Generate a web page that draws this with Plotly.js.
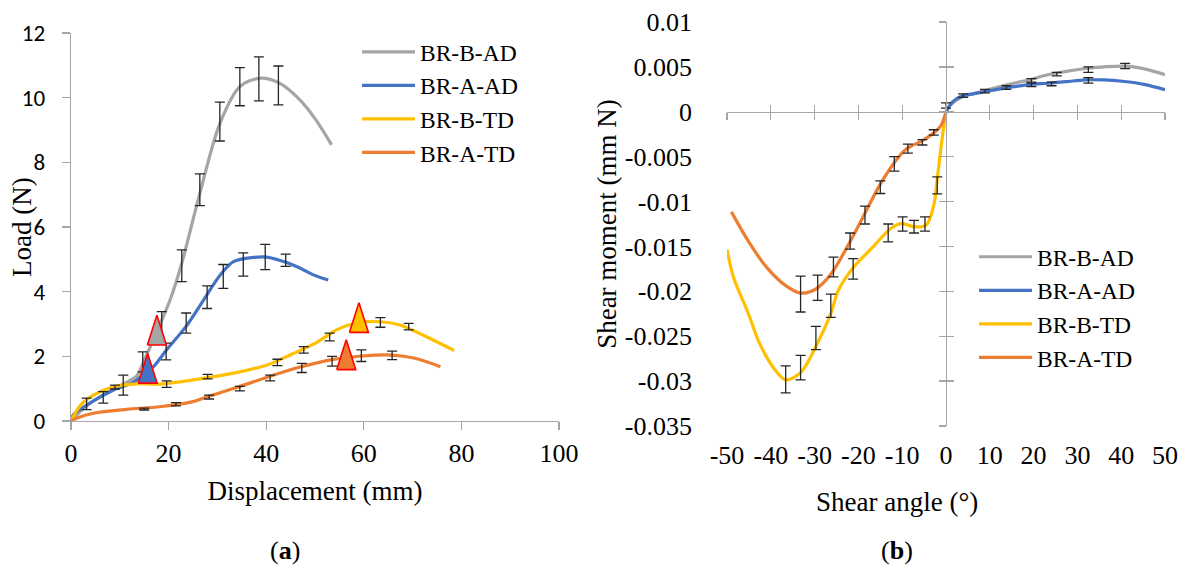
<!DOCTYPE html>
<html><head><meta charset="utf-8">
<script src="https://cdn.plot.ly/plotly-3.0.1.min.js"></script>
<style>html,body{margin:0;padding:0;background:#fff}#chart{width:1182px;height:574px}</style>
</head><body><div id="chart"></div>
<script>
// ---------- Data: (a) Load vs displacement ----------
const seriesNames = ['BR-B-AD', 'BR-A-AD', 'BR-B-TD', 'BR-A-TD'];

const aBAD_x = [0, 3, 6, 9, 12, 13.5, 15.2, 17.6, 18.6, 20.3, 22.7, 26.4, 30.5, 34.6, 38.7, 42.8, 46.9, 50, 53.4];
const aBAD_y = [0, 0.45, 0.75, 1.0, 1.25, 1.4, 1.95, 2.75, 3.12, 3.74, 4.88, 7.04, 9.2, 10.34, 10.6, 10.44, 9.93, 9.35, 8.54];
const aAAD_x = [0, 0.5, 4.6, 8.7, 12.8, 15.7, 16.9, 19.6, 23.7, 27, 30.5, 33.3, 37.4, 40.1, 44.2, 46.9, 49.7, 52.7];
const aAAD_y = [0, 0.19, 0.62, 0.96, 1.2, 1.55, 1.68, 2.2, 2.95, 3.7, 4.5, 4.93, 5.06, 5.07, 4.9, 4.73, 4.52, 4.36];
const aBTD_x = [0, 2, 4.6, 8.7, 13.5, 18.2, 25, 34.6, 40.5, 45.3, 50, 54.7, 58.7, 63.4, 67.4, 72.1, 78.5];
const aBTD_y = [0, 0.5, 0.8, 1.06, 1.15, 1.14, 1.27, 1.52, 1.75, 2.07, 2.4, 2.84, 3.04, 3.07, 2.97, 2.66, 2.18];
const aATD_x = [0, 1, 4.6, 11.4, 18.2, 25, 27.9, 34.4, 40.5, 46.8, 53.2, 59.5, 65.8, 70.5, 75.7];
const aATD_y = [0, 0.08, 0.24, 0.36, 0.44, 0.6, 0.75, 1.06, 1.37, 1.66, 1.89, 2.01, 2.04, 1.94, 1.68];

// error bars (a)
const aBAD_ex = [10.7, 14.7, 18.6, 22.7, 26.4, 30.5, 34.6, 38.5, 42.5];
const aBAD_ey = [1.11, 1.83, 2.89, 4.8, 7.15, 9.26, 10.34, 10.58, 10.38];
const aBAD_ee = [0.31, 0.31, 0.49, 0.49, 0.49, 0.6, 0.59, 0.68, 0.6];
const aAAD_ex = [3.2, 6.6, 19.5, 23.6, 27.9, 31.2, 35.3, 39.8, 44];
const aAAD_ey = [0.53, 0.73, 2.15, 3.03, 3.83, 4.47, 4.84, 5.07, 4.97];
const aAAD_ee = [0.18, 0.18, 0.26, 0.31, 0.35, 0.37, 0.36, 0.39, 0.19];
const aBTD_ex = [9, 19.6, 28, 42.3, 47.7, 53, 63.4, 69.2];
const aBTD_ey = [1.05, 1.14, 1.37, 1.81, 2.2, 2.6, 3.05, 2.92];
const aBTD_ee = [0.06, 0.1, 0.07, 0.1, 0.1, 0.12, 0.15, 0.1];
const aATD_ex = [15, 21.5, 28.3, 34.6, 40.8, 47.3, 53.5, 59.5, 65.8];
const aATD_ey = [0.37, 0.52, 0.74, 1.0, 1.33, 1.64, 1.85, 2.02, 2.03];
const aATD_ee = [0.03, 0.05, 0.06, 0.07, 0.09, 0.14, 0.15, 0.18, 0.13];

// triangle markers (a): BR-B-AD, BR-A-AD, BR-B-TD, BR-A-TD
const triX = [17.6, 15.7, 59.0, 56.4];
const triY = [2.81, 1.63, 3.2, 2.05];

const aTickVals = [0, 20, 40, 60, 80, 100];
const aTickText = ['0', '20', '40', '60', '80', '100'];
const aYTickVals = [0, 2, 4, 6, 8, 10, 12];
const aYTickText = ['0', '2', '4', '6', '8', '10', '12'];

// ---------- Data: (b) Shear moment vs shear angle ----------
const bBAD_x = [0, 1, 3.6, 6.2, 10.4, 14.7, 19, 23.2, 27.5, 31.8, 36, 41.2, 45.5, 50];
const bBAD_y = [0, 0.00073, 0.00164, 0.002, 0.00256, 0.0031, 0.00355, 0.00413, 0.0045, 0.00482, 0.005, 0.00508, 0.00475, 0.00413];
const bAAD_x = [0, 1.5, 3.6, 6.2, 10.4, 14.7, 19, 23.2, 27.5, 31.8, 36, 40.3, 45.5, 50];
const bAAD_y = [0, 0.0011, 0.00175, 0.002, 0.00238, 0.00274, 0.00303, 0.00318, 0.00336, 0.00355, 0.00355, 0.0034, 0.00303, 0.00245];
const bBTD_x = [-50, -48.5, -45.1, -42.6, -39.1, -36.6, -33.2, -29.7, -26.3, -24.6, -21.2, -16.9, -12.6, -10.1, -7.5, -4.5, -2.8, -2.0, -1.1, -0.3, 0];
const bBTD_y = [-0.01535, -0.01846, -0.0225, -0.02577, -0.0287, -0.02986, -0.02906, -0.02613, -0.02248, -0.0199, -0.01736, -0.01517, -0.013, -0.01243, -0.0128, -0.0126, -0.0104, -0.0075, -0.0038, -0.0009, 0];
const bATD_x = [-49, -45.1, -40.9, -36.6, -33.2, -29.7, -26.3, -22.9, -19.5, -15.2, -11.8, -9.2, -5, -2.4, -1.1, 0];
const bATD_y = [-0.01115, -0.01444, -0.01736, -0.01937, -0.0202, -0.01974, -0.0181, -0.01535, -0.01225, -0.00822, -0.00567, -0.0042, -0.0031, -0.0022, -0.0015, 0];

const bBAD_ex = [19.5, 25.3, 32.5, 40.9];
const bBAD_ey = [0.0035, 0.0042, 0.0047, 0.0051];
const bBAD_ee = [0.0002, 0.0002, 0.0003, 0.0003];
const bAAD_ex = [0, 3.9, 8.9, 13.8, 19.5, 24.1, 32.5];
const bAAD_ey = [0.0007, 0.0018, 0.0023, 0.0027, 0.0030, 0.0031, 0.0035];
const bAAD_ee = [0.0003, 0.0002, 0.0002, 0.0002, 0.0002, 0.0002, 0.0003];
const bBTD_ex = [-36.6, -33.2, -29.7, -26.3, -21.2, -13.2, -9.9, -7.3, -4.8, -2.0];
const bBTD_ey = [-0.0298, -0.0285, -0.0252, -0.0216, -0.0175, -0.0135, -0.0125, -0.0128, -0.0125, -0.0082];
const bBTD_ee = [0.0015, 0.00137, 0.0013, 0.0013, 0.00115, 0.001, 0.0008, 0.0007, 0.0008, 0.00095];
const bATD_ex = [-33.2, -29.3, -25.7, -21.9, -18.5, -15, -11.8, -8.7, -5.4, -2.8];
const bATD_ey = [-0.0203, -0.0196, -0.0173, -0.0144, -0.0115, -0.0084, -0.0058, -0.0041, -0.0034, -0.0023];
const bATD_ee = [0.002, 0.0014, 0.0011, 0.0009, 0.001, 0.0007, 0.0008, 0.0005, 0.0003, 0.0003];

const bTickVals = [-50, -40, -30, -20, -10, 0, 10, 20, 30, 40, 50];
const bTickText = ['-50', '-40', '-30', '-20', '-10', '0', '10', '20', '30', '40', '50'];
const bYTickVals = [-0.035, -0.03, -0.025, -0.02, -0.015, -0.01, -0.005, 0, 0.005, 0.01];
const bYTickText = ['-0.035', '-0.03', '-0.025', '-0.02', '-0.015', '-0.01', '-0.005', '0', '0.005', '0.01'];

// ---------- Styling ----------
const COLORS = ['#A5A5A5', '#4472C4', '#FFC000', '#ED7D31'];
const SERIF = '"Liberation Serif", "Times New Roman", serif';
const SANS = 'Carlito, "Liberation Sans", Arial, sans-serif';
const AXIS = '#A6A6A6';
const W = 1182, H = 574;
const fx = p => p / W;
const fy = p => 1 - p / H;
const domAX = [fx(71), fx(559)], domAY = [fy(421), fy(33)];
const domBX = [fx(727), fx(1165)], domBY = [fy(426), fy(22)];
const rangeBX = [-50, 50], rangeBY = [-0.035, 0.01];
const zeroYPaper = domBY[0] + (0 - rangeBY[0]) / (rangeBY[1] - rangeBY[0]) * (domBY[1] - domBY[0]);
const zeroXPaper = domBX[0] + (0 - rangeBX[0]) / (rangeBX[1] - rangeBX[0]) * (domBX[1] - domBX[0]);

const traces = [];
const aLines = [[aBAD_x, aBAD_y], [aAAD_x, aAAD_y], [aBTD_x, aBTD_y], [aATD_x, aATD_y]];
const bLines = [[bBAD_x, bBAD_y], [bAAD_x, bAAD_y], [bBTD_x, bBTD_y], [bATD_x, bATD_y]];
const aErr = [[aBAD_ex, aBAD_ey, aBAD_ee], [aAAD_ex, aAAD_ey, aAAD_ee], [aBTD_ex, aBTD_ey, aBTD_ee], [aATD_ex, aATD_ey, aATD_ee]];
const bErr = [[bBAD_ex, bBAD_ey, bBAD_ee], [bAAD_ex, bAAD_ey, bAAD_ee], [bBTD_ex, bBTD_ey, bBTD_ee], [bATD_ex, bATD_ey, bATD_ee]];

function lineTrace(d, i, xa, ya, leg) {
  return {type: 'scatter', mode: 'lines', x: d[0], y: d[1], name: seriesNames[i],
    xaxis: xa, yaxis: ya, legend: leg,
    line: {color: COLORS[i], width: 3.2, shape: 'spline', smoothing: 0.9}, hoverinfo: 'skip'};
}
function errTrace(d, xa, ya) {
  return {type: 'scatter', mode: 'markers', x: d[0], y: d[1], xaxis: xa, yaxis: ya,
    showlegend: false, hoverinfo: 'skip',
    marker: {size: 1, color: 'rgba(0,0,0,0)'},
    error_y: {type: 'data', array: d[2], visible: true, color: '#262626', thickness: 1.3, width: 5}};
}
aLines.forEach((d, i) => traces.push(lineTrace(d, i, 'x', 'y', 'legend')));
bLines.forEach((d, i) => traces.push(lineTrace(d, i, 'x2', 'y2', 'legend2')));
aErr.forEach(d => traces.push(errTrace(d, 'x', 'y')));
bErr.forEach(d => traces.push(errTrace(d, 'x2', 'y2')));

// triangle markers drawn as filled polygons around each data point
const TRI_HW = 1.95, TRI_HH = 0.46;
triX.forEach((cx, i) => {
  const cy = triY[i];
  traces.push({type: 'scatter', mode: 'lines', xaxis: 'x', yaxis: 'y', showlegend: false, hoverinfo: 'skip',
    x: [cx - TRI_HW, cx + TRI_HW, cx, cx - TRI_HW],
    y: [cy - TRI_HH, cy - TRI_HH, cy + TRI_HH, cy - TRI_HH],
    fill: 'toself', fillcolor: COLORS[i], line: {color: '#FF0000', width: 1.6}});
});

// dummy traces so the crossing-tick overlay axes exist
[['x3', 'y2'], ['x4', 'y2'], ['x2', 'y3'], ['x2', 'y4']].forEach(p => traces.push(
  {type: 'scatter', mode: 'markers', x: [null], y: [null], xaxis: p[0], yaxis: p[1], showlegend: false, hoverinfo: 'skip'}));

const baseAx = {showgrid: false, zeroline: false, fixedrange: true};
const layout = {
  width: W, height: H,
  margin: {l: 0, r: 0, t: 0, b: 0},
  paper_bgcolor: '#fff', plot_bgcolor: 'rgba(0,0,0,0)',
  showlegend: true,
  xaxis: Object.assign({}, baseAx, {domain: domAX, anchor: 'y', range: [0, 100],
    tickmode: 'array', tickvals: aTickVals, ticktext: aTickText,
    showline: true, linecolor: AXIS, linewidth: 1.3, ticks: 'outside', ticklen: 8, tickcolor: AXIS, tickwidth: 1.3,
    tickfont: {family: SERIF, size: 26, color: '#000'}, ticklabelstandoff: 0,
    title: {text: 'Displacement (mm)', font: {family: SERIF, size: 27, color: '#000'}, standoff: 14}}),
  yaxis: Object.assign({}, baseAx, {domain: domAY, anchor: 'x', range: [0, 12],
    tickmode: 'array', tickvals: aYTickVals, ticktext: aYTickText,
    showline: true, linecolor: AXIS, linewidth: 1.3, ticks: 'outside', ticklen: 8, tickcolor: AXIS, tickwidth: 1.3,
    tickfont: {family: SANS, size: 23, color: '#000'}, ticklabelstandoff: 12}),
  xaxis2: Object.assign({}, baseAx, {domain: domBX, anchor: 'y2', range: rangeBX,
    tickmode: 'array', tickvals: bTickVals, ticktext: bTickText,
    showline: false, ticks: '',
    tickfont: {family: SERIF, size: 26, color: '#000'}, ticklabelstandoff: 11}),
  yaxis2: Object.assign({}, baseAx, {domain: domBY, anchor: 'x2', range: rangeBY,
    tickmode: 'array', tickvals: bYTickVals, ticktext: bYTickText,
    showline: false, ticks: '',
    tickfont: {family: SERIF, size: 26, color: '#000'}, ticklabelstandoff: 34,
    title: {text: 'Shear moment (mm N)', font: {family: SERIF, size: 27, color: '#000'}, standoff: 0}}),
  xaxis3: Object.assign({}, baseAx, {overlaying: 'x2', anchor: 'free', position: zeroYPaper, range: rangeBX,
    tickmode: 'array', tickvals: bTickVals, showticklabels: false,
    showline: true, linecolor: AXIS, linewidth: 1.3, ticks: 'outside', ticklen: 7, tickcolor: AXIS, tickwidth: 1.3}),
  xaxis4: Object.assign({}, baseAx, {overlaying: 'x2', anchor: 'free', position: zeroYPaper, range: rangeBX,
    tickmode: 'array', tickvals: bTickVals, showticklabels: false,
    showline: false, ticks: 'inside', ticklen: 7, tickcolor: AXIS, tickwidth: 1.3}),
  yaxis3: Object.assign({}, baseAx, {overlaying: 'y2', anchor: 'free', position: zeroXPaper, range: rangeBY,
    tickmode: 'array', tickvals: bYTickVals, showticklabels: false,
    showline: true, linecolor: AXIS, linewidth: 1.3, ticks: 'outside', ticklen: 7, tickcolor: AXIS, tickwidth: 1.3}),
  yaxis4: Object.assign({}, baseAx, {overlaying: 'y2', anchor: 'free', position: zeroXPaper, range: rangeBY,
    tickmode: 'array', tickvals: bYTickVals, showticklabels: false,
    showline: false, ticks: 'inside', ticklen: 7, tickcolor: AXIS, tickwidth: 1.3}),
  legend: {x: fx(357), y: fy(30), xanchor: 'left', yanchor: 'top', bgcolor: 'rgba(0,0,0,0)',
    font: {family: SERIF, size: 23.5, color: '#000'}, tracegroupgap: 0, itemwidth: 53},
  legend2: {x: fx(974), y: fy(235), xanchor: 'left', yanchor: 'top', bgcolor: 'rgba(0,0,0,0)',
    font: {family: SERIF, size: 23.5, color: '#000'}, tracegroupgap: 0, itemwidth: 53},
  annotations: [
    {text: 'Load (N)', xref: 'paper', yref: 'paper', x: fx(22), y: fy(227), textangle: -90,
      showarrow: false, xanchor: 'center', yanchor: 'middle', font: {family: SERIF, size: 27, color: '#000'}},
    {text: 'Shear angle (°)', xref: 'paper', yref: 'paper', x: fx(897), y: fy(502),
      showarrow: false, xanchor: 'center', yanchor: 'middle', font: {family: SERIF, size: 27, color: '#000'}},
    {text: '(<b>a</b>)', xref: 'paper', yref: 'paper', x: fx(285), y: fy(550),
      showarrow: false, xanchor: 'center', yanchor: 'middle', font: {family: SERIF, size: 26, color: '#000'}},
    {text: '(<b>b</b>)', xref: 'paper', yref: 'paper', x: fx(897), y: fy(550),
      showarrow: false, xanchor: 'center', yanchor: 'middle', font: {family: SERIF, size: 26, color: '#000'}}
  ]
};
Plotly.newPlot('chart', traces, layout, {displayModeBar: false, staticPlot: true});
</script>
</body></html>
